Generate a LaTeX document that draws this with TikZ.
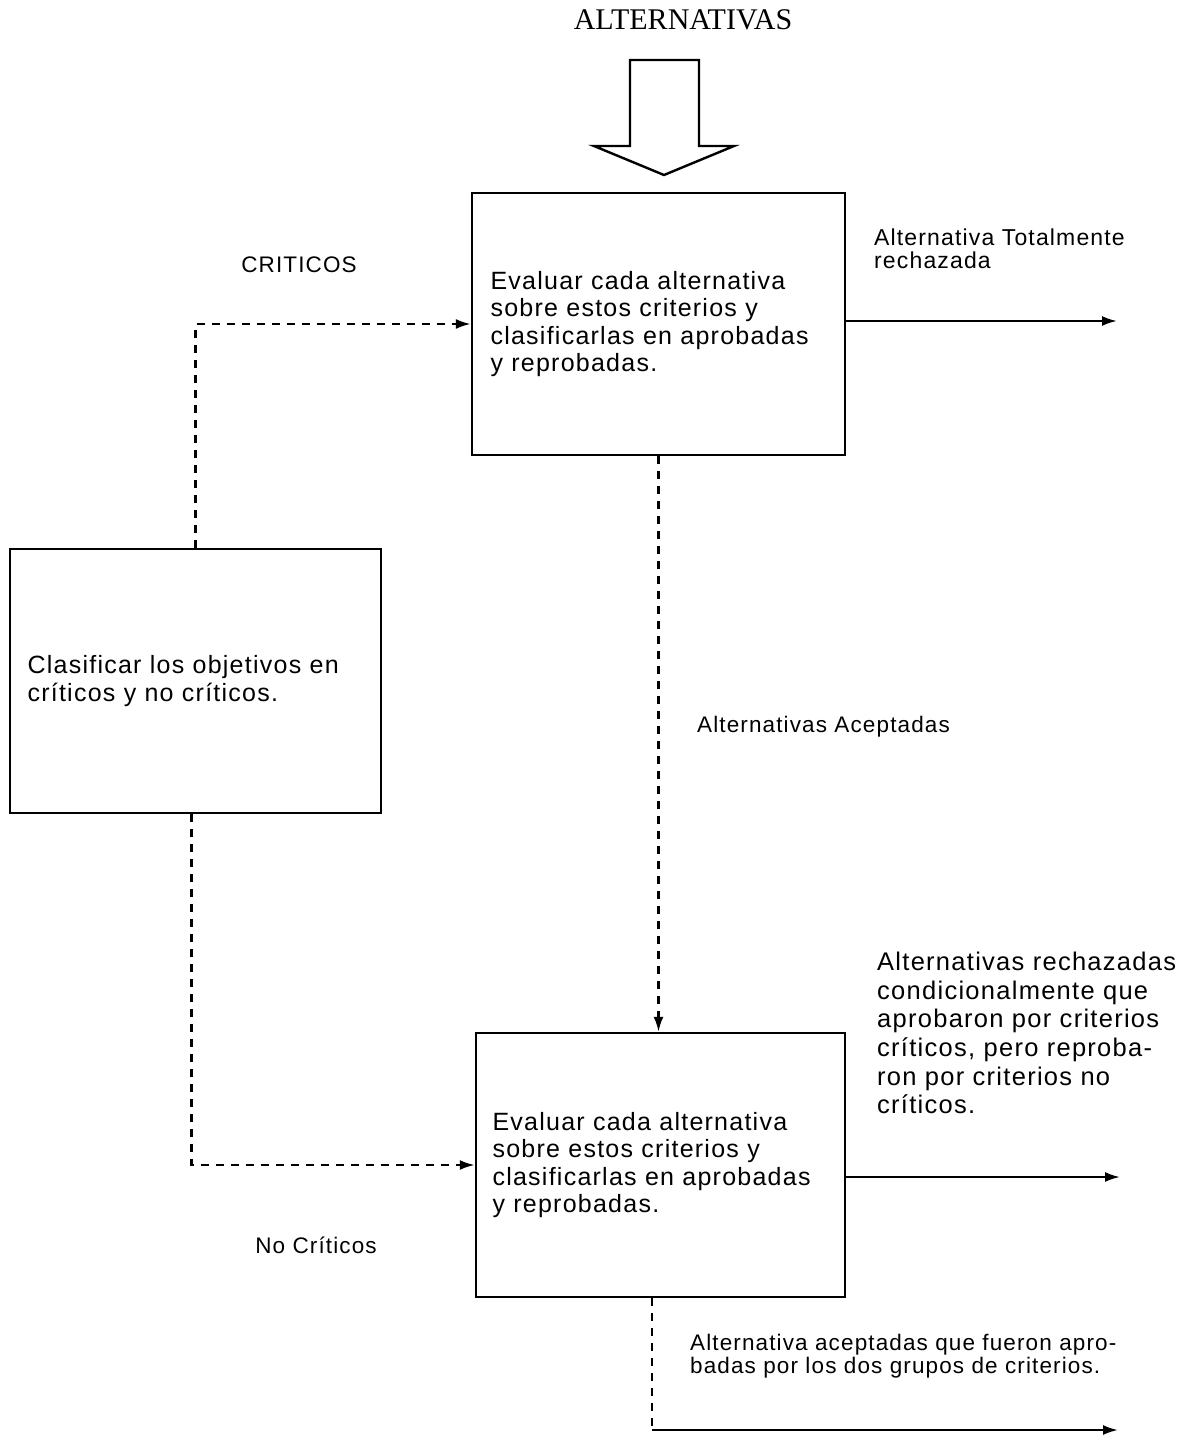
\documentclass[tikz,border=0pt]{standalone}
\usepackage{fontspec}
\setmainfont[LetterSpace=5]{Liberation Sans}
\newfontfamily\titlefont{Liberation Serif}
\usetikzlibrary{arrows.meta,positioning}

\tikzset{
  caja/.style={draw,line width=2.4pt,inner sep=0pt,text width=336pt,align=left,
    font=\fontsize{25}{27.5}\selectfont},
  etiqueta/.style={inner sep=0pt,align=left,font=\fontsize{22.5}{23}\selectfont},
  flujo/.style={line width=2.4pt,dash pattern=on 8pt off 7pt,-{Latex[length=15pt,width=10pt]}},
  salida/.style={line width=2.2pt,-{Latex[length=15pt,width=10pt]}}
}

\begin{document}
\begin{tikzpicture}[x=1pt,y=-1pt]
  \useasboundingbox (0,0) rectangle (1189,1435);

  % entrada de alternativas
  \node[font=\titlefont\fontsize{30}{34}\selectfont] (titulo) at (683,20) {ALTERNATIVAS};
  \draw[line width=2.4pt,line join=miter]
    (630,60) -- (699,60) -- (699,146) -- (734,146) -- (664,175) -- (594,146) -- (630,146) -- cycle;

  % cajas
  \node[caja,minimum width=373pt,minimum height=262pt] (eval1) at (658.5,324)
    {Evaluar cada alternativa\\sobre estos criterios y\\clasificarlas en aprobadas\\y reprobadas.};
  \node[caja,minimum width=371pt,minimum height=264pt] (clasif) at (195.5,681)
    {Clasificar los objetivos en\\críticos y no críticos.};
  \node[caja,minimum width=369pt,minimum height=264pt] (eval2) at (660.5,1165)
    {Evaluar cada alternativa\\sobre estos criterios y\\clasificarlas en aprobadas\\y reprobadas.};

  % textos sueltos
  \node[etiqueta] (criticos) at (299,265) {CRITICOS};
  \node[etiqueta,anchor=north west,font=\fontsize{23}{23}\selectfont] (totalmente) at (874,229)
    {Alternativa Totalmente\\rechazada};
  \node[etiqueta,anchor=west] (aceptadas) at (697,727) {Alternativas Aceptadas};
  \node[etiqueta] (nocriticos) at (316,1245) {No Críticos};
  \node[etiqueta,anchor=north west,font=\fontsize{25.5}{28.6}\selectfont] (condicional) at (877,952)
    {Alternativas rechazadas\\condicionalmente que\\aprobaron por criterios\\críticos, pero reproba-\\ron por criterios no\\críticos.};
  \node[etiqueta,anchor=north west] (ambos) at (690,1334)
    {Alternativa aceptadas que fueron apro-\\badas por los dos grupos de criterios.};

  \coordinate (salida1) at (1117,321);
  \coordinate (salida2) at (1120,1177);
  \coordinate (esquina) at (652,1430);
  \coordinate (salida3) at (1118,1430);

  % conexiones
  \draw[flujo] (clasif.north) |- (eval1.west);
  \draw[flujo] ([xshift=-4pt]clasif.south) |- (eval2.west);
  \draw[flujo] (eval1.south) -- (eval1.south |- eval2.north);
  \draw[salida] (eval1.east |- salida1) -- (salida1);
  \draw[salida] (eval2.east |- salida2) -- (salida2);
  \draw[line width=2.4pt,dash pattern=on 8pt off 7pt] ([xshift=-8.5pt]eval2.south) -- (esquina);
  \draw[salida] (esquina) -- (salida3);
\end{tikzpicture}
\end{document}
